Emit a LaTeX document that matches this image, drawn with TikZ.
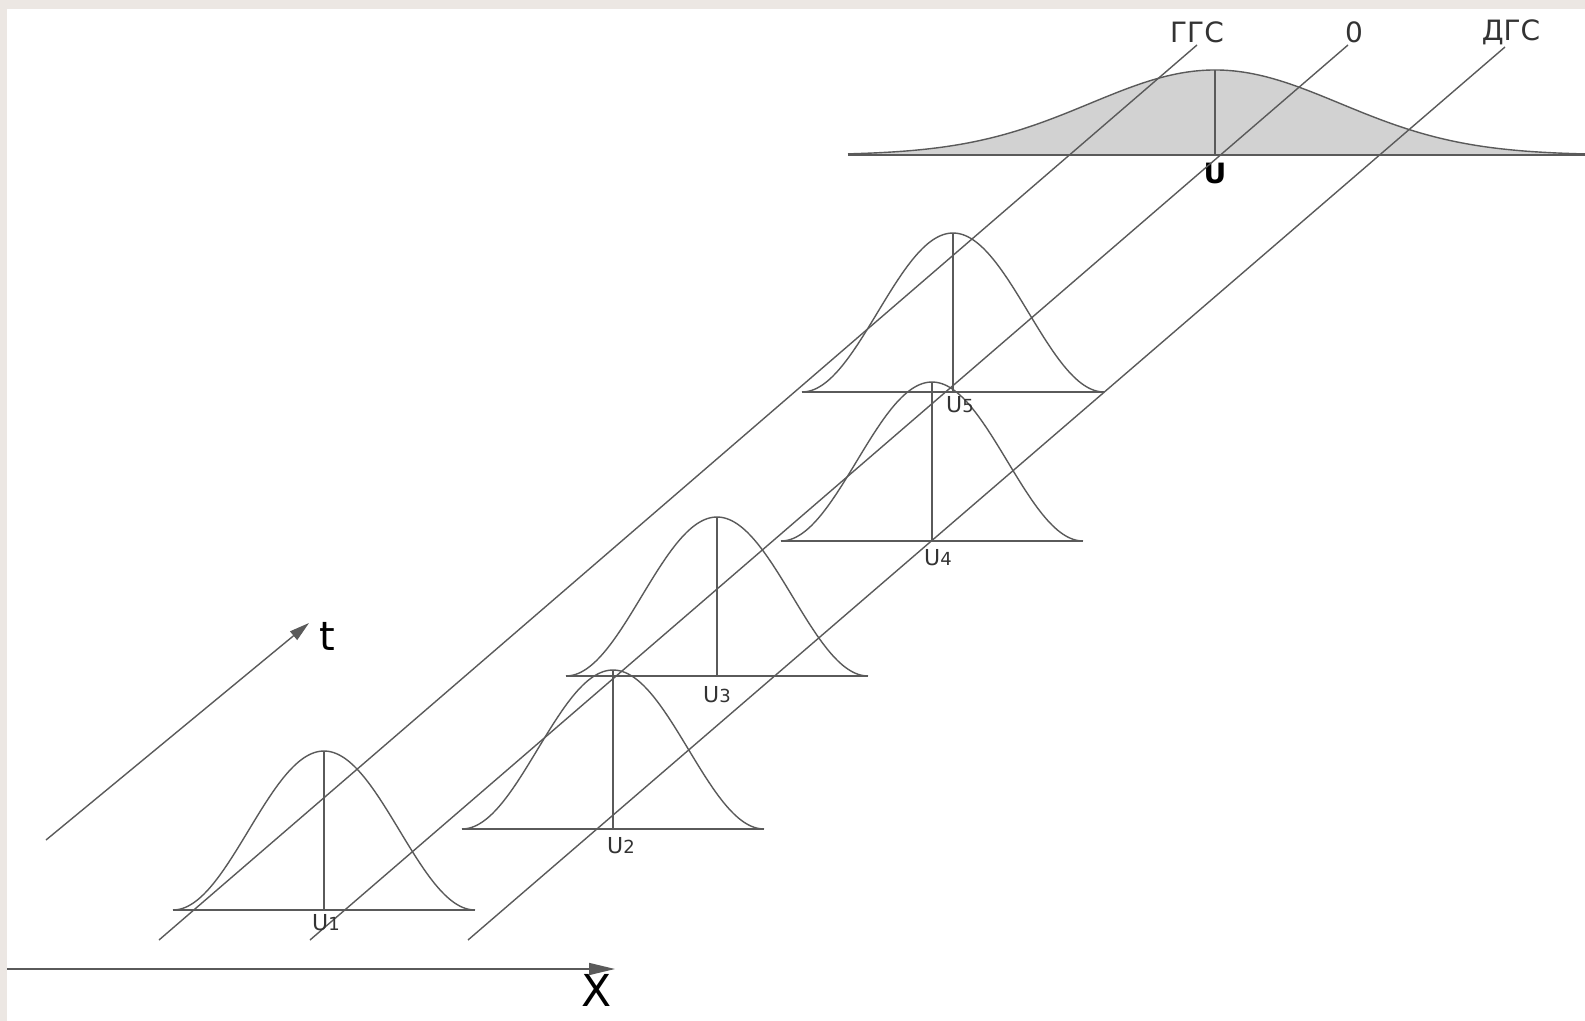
\documentclass[tikz,border=0pt]{standalone}
\usepackage{fontspec}
\setmainfont{DejaVu Sans}
\usetikzlibrary{arrows.meta, positioning, calc}
\definecolor{framebg}{HTML}{ECE7E3}
\definecolor{linegray}{HTML}{5A5A5A}
\definecolor{fillgray}{HTML}{D2D2D2}
\definecolor{textgray}{HTML}{333333}

\begin{document}
\begin{tikzpicture}[
    x=0.5pt, y=-0.5pt,
    guide/.style={draw=linegray, line width=0.7pt},
    axis/.style={-{Triangle[length=13pt, width=6pt]}, draw=linegray, line width=0.8pt},
    taxis/.style={-{Triangle[length=10pt, width=5.5pt]}, draw=linegray, line width=0.7pt},
    bell/.style={draw=linegray, line width=0.7pt},
    bellbase/.style={draw=linegray, line width=0.9pt},
    toplabel/.style={font=\fontsize{14}{14}\selectfont, text=textgray},
    ulabel/.style={font=\fontsize{11}{11}\selectfont, text=textgray, inner sep=0pt},
    axislabel/.style={font=\fontsize{22}{22}\selectfont, text=black, inner sep=0pt}
]
\useasboundingbox (0,0) rectangle (1585,1021);
\fill[white] (0,0) rectangle (1585,1021);
\fill[framebg] (0,0) rectangle (1585,9);
\fill[framebg] (0,0) rectangle (7,1021);

% Distribution U
\coordinate (U) at (1215,155);
\fill[fillgray] plot[domain=848:1585, samples=150] (\x, {155-85*exp(-0.5*((\x-1215)/125)^2)}) -- cycle;
\draw[bell] plot[domain=848:1585, samples=150, smooth] (\x, {155-85*exp(-0.5*((\x-1215)/125)^2)});
\draw[bellbase] (848,155) -- (1585,155);
\draw[bell] (U) -- ++(0,-85);
\node[font=\bfseries\fontsize{14}{14}\selectfont, text=black, inner sep=0pt] (Ulab) at (1215,173) {U};

% Guide lines
\coordinate (g0) at (159,940);
\coordinate (g1) at (1197,45);
\coordinate (z0) at (310,940);
\coordinate (z1) at (1348,45);
\coordinate (d0) at (468,940);
\coordinate (d1) at (1505,47);
\draw[guide] (g0) -- (g1);
\draw[guide] (z0) -- (z1);
\draw[guide] (d0) -- (d1);
\node[toplabel] (ggs) at (1197,32) {ГГС};
\node[toplabel] (zero) at (1354,32) {0};
\node[toplabel] (dgs) at (1511,32) {ДГС};

% Bells U1 ... U5
\coordinate (U1) at (324,910);
\coordinate (U2) at (613,829);
\coordinate (U3) at (717,676);
\coordinate (U4) at (932,541);
\coordinate (U5) at (953,392);

\draw[bell] plot[domain=-151:151, samples=61, smooth] ({324+\x}, {910-79.5*(1+cos(\x/151*180))});
\draw[bell] plot[domain=-151:151, samples=61, smooth] ({613+\x}, {829-79.5*(1+cos(\x/151*180))});
\draw[bell] plot[domain=-151:151, samples=61, smooth] ({717+\x}, {676-79.5*(1+cos(\x/151*180))});
\draw[bell] plot[domain=-151:151, samples=61, smooth] ({932+\x}, {541-79.5*(1+cos(\x/151*180))});
\draw[bell] plot[domain=-151:151, samples=61, smooth] ({953+\x}, {392-79.5*(1+cos(\x/151*180))});

\draw[bellbase] (U1) ++(-151,0) -- ++(302,0);
\draw[bellbase] (U2) ++(-151,0) -- ++(302,0);
\draw[bellbase] (U3) ++(-151,0) -- ++(302,0);
\draw[bellbase] (U4) ++(-151,0) -- ++(302,0);
\draw[bellbase] (U5) ++(-151,0) -- ++(302,0);

\draw[bell] (U1) -- ++(0,-159);
\draw[bell] (U2) -- ++(0,-159);
\draw[bell] (U3) -- ++(0,-159);
\draw[bell] (U4) -- ++(0,-159);
\draw[bell] (U5) -- ++(0,-159);

\node[ulabel] (u1lab) at (326,923) {U{\fontsize{9}{9}\selectfont 1}};
\node[ulabel] (u2lab) at (621,846) {U{\fontsize{9}{9}\selectfont 2}};
\node[ulabel] (u3lab) at (717,695) {U{\fontsize{9}{9}\selectfont 3}};
\node[ulabel] (u4lab) at (938,558) {U{\fontsize{9}{9}\selectfont 4}};
\node[ulabel] (u5lab) at (960,405) {U{\fontsize{9}{9}\selectfont 5}};

% Axes
\coordinate (t0) at (46,840);
\coordinate (t1) at (309,623);
\draw[taxis] (t0) -- (t1);
\node[axislabel, font=\fontsize{20}{20}\selectfont] (tlab) at (327,636) {t};

\coordinate (x0) at (7,969);
\coordinate (x1) at (615,969);
\draw[axis] (x0) -- (x1);
\node[axislabel] (xlab) at (597,990) {X};

\end{tikzpicture}
\end{document}
